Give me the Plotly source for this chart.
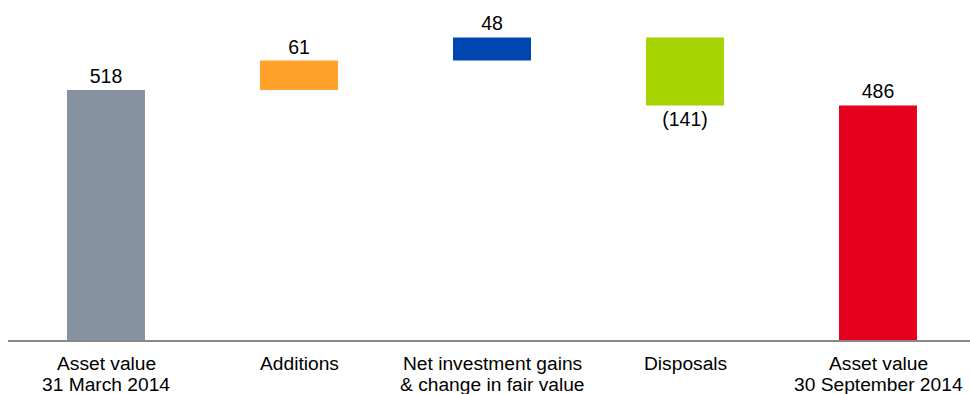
import plotly.graph_objects as go

categories = ["Asset value<br>31 March 2014", "Additions",
              "Net investment gains<br>& change in fair value", "Disposals",
              "Asset value<br>30 September 2014"]
values = [518, 61, 48, -141, 486]
kinds = ["total", "delta", "delta", "delta", "total"]
labels = ["518", "61", "48", "(141)", "486"]
colors = ["#8691A1", "#FFA12B", "#0046B0", "#A6D400", "#E5001C"]

FONT = "Liberation Sans, Arial"
FS = 19.2

bases = []
running = 0
for v, k in zip(values, kinds):
    if k == "total":
        bases.append(0)
        running = v
    else:
        bases.append(running)
        running += v

xs = list(range(len(categories)))

fig = go.Figure()
fig.add_trace(go.Bar(
    x=xs, y=values, base=bases,
    marker=dict(color=colors, line=dict(width=0)),
    width=0.404,
    text=labels, textposition="outside",
    textfont=dict(family=FONT, size=19.5, color="#000000"),
    cliponaxis=False,
    hoverinfo="skip",
))

# category labels as separate line annotations (tight line spacing)
annotations = []
for x, cat in zip(xs, categories):
    for i, line in enumerate(cat.split("<br>")):
        annotations.append(dict(
            x=x, xref="x", y=0, yref="paper",
            text=line, showarrow=False,
            xanchor="center", yanchor="middle",
            yshift=-23.5 - 20.5 * i,
            font=dict(family=FONT, size=FS, color="#000000"),
        ))

fig.update_layout(
    width=970, height=394,
    margin=dict(l=8, r=0, t=0, b=54),
    paper_bgcolor="white", plot_bgcolor="white",
    showlegend=False,
    font=dict(family=FONT, size=FS, color="#000000"),
    annotations=annotations,
    xaxis=dict(
        range=[-0.5078, 4.4767],
        tickmode="array", tickvals=xs, showticklabels=False,
        showline=True, linecolor="#888888", linewidth=2,
        showgrid=False, zeroline=False, ticks="",
        automargin=False, fixedrange=True,
    ),
    yaxis=dict(
        range=[0, 704.5], visible=False, showgrid=False, zeroline=False,
        fixedrange=True,
    ),
)

fig.write_html("out.html")
